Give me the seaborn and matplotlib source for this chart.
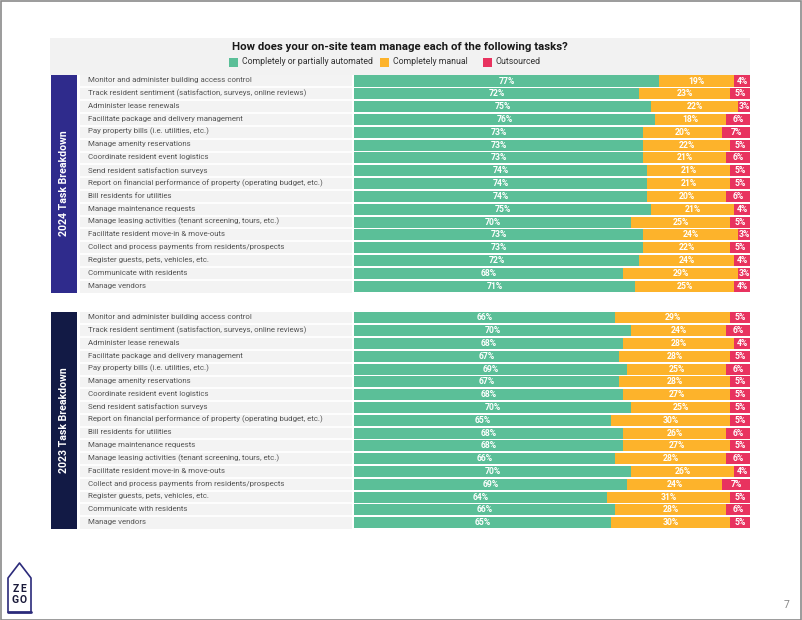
import matplotlib
matplotlib.use("Agg")
import matplotlib.pyplot as plt
from matplotlib.patches import Rectangle
from matplotlib.lines import Line2D
import seaborn as sns
import pandas as pd
import numpy as np

sns.set_theme(style="white")
plt.rcParams['font.family'] = ['Roboto', 'DejaVu Sans']

tasks = [
    "Monitor and administer building access control",
    "Track resident sentiment (satisfaction, surveys, online reviews)",
    "Administer lease renewals",
    "Facilitate package and delivery management",
    "Pay property bills (i.e. utilities, etc.)",
    "Manage amenity reservations",
    "Coordinate resident event logistics",
    "Send resident satisfaction surveys",
    "Report on financial performance of property (operating budget, etc.)",
    "Bill residents for utilities",
    "Manage maintenance requests",
    "Manage leasing activities (tenant screening, tours, etc.)",
    "Facilitate resident move-in & move-outs",
    "Collect and process payments from residents/prospects",
    "Register guests, pets, vehicles, etc.",
    "Communicate with residents",
    "Manage vendors",
]

auto_2024 = [77, 72, 75, 76, 73, 73, 73, 74, 74, 74, 75, 70, 73, 73, 72, 68, 71]
manual_2024 = [19, 23, 22, 18, 20, 22, 21, 21, 21, 20, 21, 25, 24, 22, 24, 29, 25]
out_2024 = [4, 5, 3, 6, 7, 5, 6, 5, 5, 6, 4, 5, 3, 5, 4, 3, 4]

auto_2023 = [66, 70, 68, 67, 69, 67, 68, 70, 65, 68, 68, 66, 70, 69, 64, 66, 65]
manual_2023 = [29, 24, 28, 28, 25, 28, 27, 25, 30, 26, 27, 28, 26, 24, 31, 28, 30]
out_2023 = [5, 6, 4, 5, 6, 5, 5, 5, 5, 6, 5, 6, 4, 7, 5, 6, 5]

series_names = ["Completely or partially automated", "Completely manual", "Outsourced"]
title = "How does your on-site team manage each of the following tasks?"
panel_titles = ["2024 Task Breakdown", "2023 Task Breakdown"]

GREEN = "#5bbf98"
YELLOW = "#fdb32b"
RED = "#e8335f"
SIDE = ["#2f2b8c", "#121a45"]
ROWBG = "#f3f3f3"
LABEL = "#555555"

W, H = 802, 620
fig = plt.figure(figsize=(W / 100, H / 100), dpi=100)
fig.patch.set_facecolor("white")


def ax_px(x0, y0, x1, y1, **kw):
    return fig.add_axes([x0 / W, 1 - y1 / H, (x1 - x0) / W, (y1 - y0) / H], **kw)


# border of page
fig.add_artist(Rectangle((0.5 / W, 0.5 / H), 1 - 1.5 / W, 1 - 1.5 / H, transform=fig.transFigure,
                         fill=False, edgecolor="#8a8a8a", linewidth=1.2))

# header band
hdr = ax_px(50, 38, 750, 75)
hdr.set_facecolor("#f2f2f2")
hdr.set_xticks([]); hdr.set_yticks([])
for s in hdr.spines.values():
    s.set_visible(False)
hdr.set_xlim(50, 750); hdr.set_ylim(75, 38)
hdr.text(400, 47, title, ha="center", va="center", fontsize=8.2, fontweight="bold", color="#1a1a1a")
leg_items = [(234, GREEN, series_names[0]), (385, YELLOW, series_names[1]), (488, RED, series_names[2])]
for lx, c, name in leg_items:
    hdr.add_patch(Rectangle((lx - 5, 57.5), 9, 9, facecolor=c, edgecolor="none"))
    hdr.text(lx + 8, 62, name, ha="left", va="center", fontsize=6.3, color="#333333")


def panel(y_top, y_bot, auto, manual, out, side_color, ptitle):
    n = len(tasks)
    df = pd.DataFrame({"task": tasks, "auto": auto, "manual": manual, "out": out})
    df["am"] = df["auto"] + df["manual"]
    df["total"] = df["am"] + df["out"]

    # side band
    side = ax_px(51, y_top, 77, y_bot)
    side.set_facecolor(side_color)
    side.set_xticks([]); side.set_yticks([])
    for s in side.spines.values():
        s.set_visible(False)
    side.text(0.5, 0.5, ptitle, rotation=90, ha="center", va="center", color="white",
              fontsize=7.6, fontweight="bold", transform=side.transAxes)

    # label area
    lab = ax_px(80, y_top, 352, y_bot)
    lab.set_facecolor(ROWBG)
    lab.set_xlim(0, 1)
    lab.set_ylim(n - 0.5, -0.5)
    lab.set_xticks([]); lab.set_yticks([])
    for s in lab.spines.values():
        s.set_visible(False)
    for i in range(n - 1):
        lab.axhline(i + 0.5, color="white", linewidth=1.3)
    for i, t in enumerate(df["task"]):
        lab.text(0.03, i - 0.05, t, ha="left", va="center", fontsize=5.65, color=LABEL)

    # bars
    ax = ax_px(354, y_top, 750, y_bot)
    sns.barplot(data=df, x="total", y="task", color=RED, orient="h", width=0.86,
                saturation=1, ax=ax, linewidth=0)
    sns.barplot(data=df, x="am", y="task", color=YELLOW, orient="h", width=0.86,
                saturation=1, ax=ax, linewidth=0)
    sns.barplot(data=df, x="auto", y="task", color=GREEN, orient="h", width=0.86,
                saturation=1, ax=ax, linewidth=0)
    ax.set_xlim(0, 100)
    ax.set_ylim(n - 0.5, -0.5)
    ax.axis("off")
    for i, r in df.iterrows():
        kw = dict(ha="center", va="center", fontsize=6.2, fontweight="bold", color="white")
        ax.text(r["auto"] / 2, i, f"{r['auto']}%", **kw)
        ax.text(r["auto"] + r["manual"] / 2, i, f"{r['manual']}%", **kw)
        ax.text(r["am"] + r["out"] / 2, i, f"{r['out']}%", **kw)


panel(74.6, 292.6, auto_2024, manual_2024, out_2024, SIDE[0], panel_titles[0])
panel(311.6, 529.0, auto_2023, manual_2023, out_2023, SIDE[1], panel_titles[1])

# logo
navy = "#2b2a7a"
pts = [(8, 612), (8, 578), (19.5, 563), (31, 578), (31, 612)]
xs = [p[0] / W for p in pts]
ys = [1 - p[1] / H for p in pts]
fig.add_artist(Line2D(xs, ys, transform=fig.transFigure, color=navy, linewidth=1.2))
fig.add_artist(Line2D([8 / W, 31 / W], [1 - 612 / H, 1 - 612 / H], transform=fig.transFigure,
                      color=navy, linewidth=2.0))
for (cx, cy, ch) in [(15.5, 589, "Z"), (23.5, 589, "E"), (15.5, 600, "G"), (23.5, 600, "O")]:
    fig.text(cx / W, 1 - cy / H, ch, ha="center", va="center", fontsize=7.5,
             fontweight="bold", color="#1a1a3a")

# page number
fig.text(787 / W, 1 - 605 / H, "7", ha="center", va="center", fontsize=7.5, color="#888888")

fig.savefig("out.png", dpi=100, facecolor="white")
